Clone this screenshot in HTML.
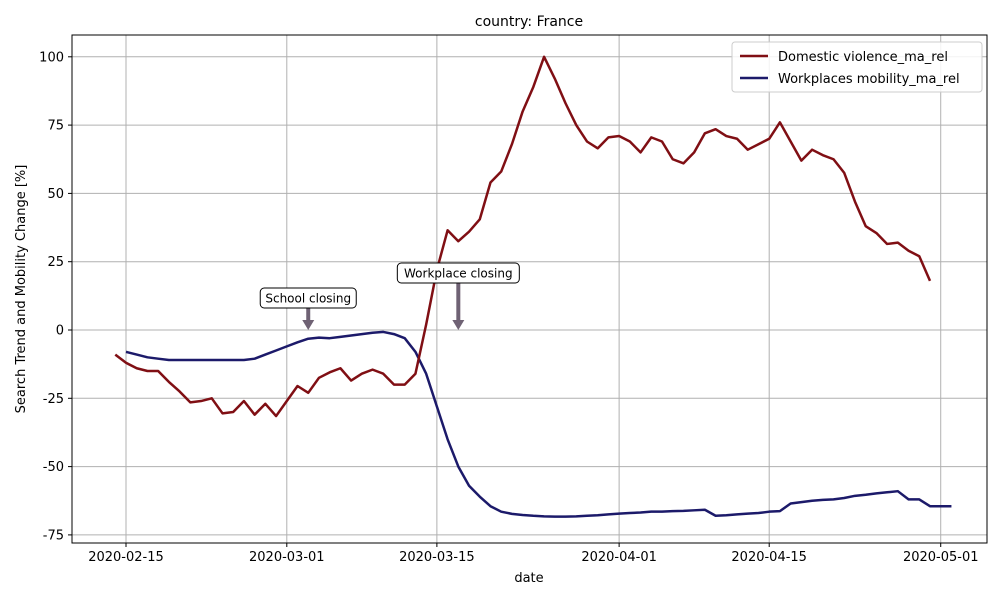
<!DOCTYPE html>
<html><head><meta charset="utf-8"><style>
body{margin:0;background:#fff;font-family:"DejaVu Sans","Liberation Sans",sans-serif;}
svg text{font-family:"DejaVu Sans","Liberation Sans",sans-serif;}
</style></head><body>
<svg id="chart" width="1000" height="600" xmlns="http://www.w3.org/2000/svg">
<rect width="1000" height="600" fill="#fff"/>
<g id="grid"></g>
<g id="series"></g>
<g id="annots"></g>
<rect x="72" y="35" width="915" height="508" fill="none" stroke="#000" stroke-width="1"/>
<g id="axes"></g>
<text x="529" y="26" text-anchor="middle" font-size="14">country: France</text>
<text x="529" y="582" text-anchor="middle" font-size="13">date</text>
<text transform="translate(25,289) rotate(-90)" text-anchor="middle" font-size="13">Search Trend and Mobility Change [%]</text>
<g>
<rect x="732" y="42" width="250" height="50" rx="3" fill="#fff" fill-opacity="0.85" stroke="#ccc"/>
<line x1="740" y1="56" x2="768" y2="56" stroke="#800f14" stroke-width="2.5"/>
<text x="778" y="61" font-size="13">Domestic violence_ma_rel</text>
<line x1="740" y1="78" x2="768" y2="78" stroke="#1c1a6a" stroke-width="2.5"/>
<text x="778" y="83" font-size="13">Workplaces mobility_ma_rel</text>
</g>
</svg>
<script>
const yTicks=[-75,-50,-25,0,25,50,75,100];
const xTickLabels=["2020-02-15","2020-03-01","2020-03-15","2020-04-01","2020-04-15","2020-05-01"];
const xTickDays=[0,15,29,46,60,76];
const domesticStart=-1;
const domestic=[-9,-12,-14,-15,-15,-19,-22.5,-26.5,-26,-25,-30.5,-30,-26,-31,-27,-31.5,-26,-20.5,-23,-17.5,-15.5,-14,-18.5,-16,-14.5,-16,-20,-20,-16,2,22,36.5,32.5,36,40.5,54,58,68,80,89,100,92,83,75,69,66.5,70.5,71,69,65,70.5,69,62.5,61,65,72,73.5,71,70,66,68,70,76,69,62,66,64,62.5,57.5,47,38,35.5,31.5,32,29,27,18];
const workStart=0;
const workplaces=[-8,-9,-10,-10.5,-11,-11,-11,-11,-11,-11,-11,-11,-10.5,-9,-7.5,-6,-4.5,-3.2,-2.8,-3,-2.5,-2,-1.5,-1,-0.7,-1.5,-3,-8,-16,-28,-40,-50,-57,-61,-64.5,-66.5,-67.3,-67.7,-68,-68.2,-68.3,-68.3,-68.2,-68,-67.8,-67.5,-67.2,-67,-66.8,-66.5,-66.5,-66.3,-66.2,-66,-65.8,-68,-67.8,-67.5,-67.2,-67,-66.5,-66.3,-63.5,-63,-62.5,-62.2,-62,-61.5,-60.7,-60.3,-59.8,-59.4,-59,-62,-62,-64.5,-64.5,-64.5];
const schoolDay=17, workDay=31;
const X=d=>126+d*10.72, Y=v=>330-v*2.732;
const NS="http://www.w3.org/2000/svg";
function mk(tag,attrs,parent){const e=document.createElementNS(NS,tag);for(const k in attrs)e.setAttribute(k,attrs[k]);parent.appendChild(e);return e;}
const grid=document.getElementById('grid'),axes=document.getElementById('axes'),ser=document.getElementById('series'),ann=document.getElementById('annots');
yTicks.forEach(v=>{
 const g=mk('line',{x1:72,x2:987,y1:Y(v),y2:Y(v),stroke:'#b0b0b0','stroke-width':1},grid);
 
 
 mk('line',{x1:68,x2:72,y1:Y(v),y2:Y(v),stroke:'#000'},axes);
 const t=mk('text',{x:64,y:Y(v)+4.5,'text-anchor':'end','font-size':13},axes);t.textContent=v;
 
 
});
xTickDays.forEach((d,i)=>{
 const g=mk('line',{x1:X(d),x2:X(d),y1:35,y2:543,stroke:'#b0b0b0','stroke-width':1},grid);
 
 
 mk('line',{x1:X(d),x2:X(d),y1:543,y2:547,stroke:'#000'},axes);
 const t=mk('text',{x:X(d),y:561,'text-anchor':'middle','font-size':13},axes);t.textContent=xTickLabels[i];
 
 
});
function line(arr,start,color,name){
 const p=mk('polyline',{points:arr.map((v,i)=>X(start+i)+','+Y(v)).join(' '),fill:'none',stroke:color,'stroke-width':2.5,'stroke-linejoin':'round'},ser);
 
 
}
line(workplaces,workStart,'#1c1a6a','workplaces-line');
line(domestic,domesticStart,'#800f14','domestic-violence-line');
function annot(day,label,boxY,w,name){
 const x=X(day);
 mk('line',{x1:x,x2:x,y1:boxY+20,y2:Y(0)-8,stroke:'#6f6274','stroke-width':4},ann);
 mk('polygon',{points:`${x-6},${Y(0)-10} ${x+6},${Y(0)-10} ${x},${Y(0)}`,fill:'#6f6274'},ann);
 const r=mk('rect',{x:x-w/2,y:boxY,width:w,height:20,rx:4,fill:'#fff',stroke:'#000'},ann);
 
 
 const t=mk('text',{x:x,y:boxY+14.5,'text-anchor':'middle','font-size':12},ann);t.textContent=label;
 
 
}
annot(schoolDay,'School closing',288,96,'school-closing');
annot(workDay,'Workplace closing',263,122,'workplace-closing');
</script>
</body></html>
